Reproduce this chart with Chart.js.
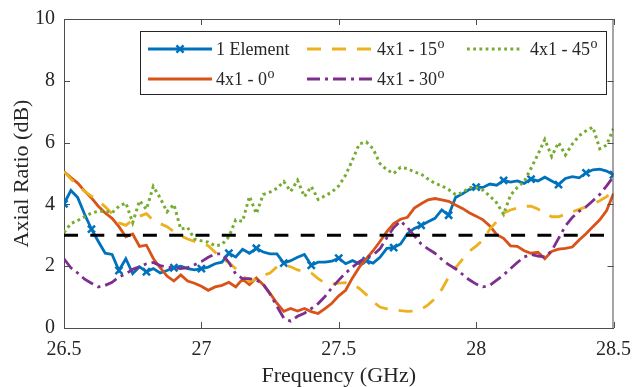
<!DOCTYPE html>
<html>
<head>
<meta charset="utf-8">
<script src="https://cdn.jsdelivr.net/npm/chart.js@4/dist/chart.umd.min.js"></script>
<style>
  html, body { margin: 0; padding: 0; background: #ffffff; }
  #wrap { width: 643px; height: 387px; position: relative; }
</style>
</head>
<body>
<div id="wrap"><canvas id="c" width="643" height="387"></canvas></div>
<script>
// Frequency sample points (GHz)
const freqs = [
  26.5, 26.525, 26.55, 26.575, 26.6, 26.625, 26.65, 26.675, 26.7, 26.725,
  26.75, 26.775, 26.8, 26.825, 26.85, 26.875, 26.9, 26.925, 26.95, 26.975,
  27.0, 27.025, 27.05, 27.075, 27.1, 27.125, 27.15, 27.175, 27.2, 27.225,
  27.25, 27.275, 27.3, 27.325, 27.35, 27.375, 27.4, 27.425, 27.45, 27.475,
  27.5, 27.525, 27.55, 27.575, 27.6, 27.625, 27.65, 27.675, 27.7, 27.725,
  27.75, 27.775, 27.8, 27.825, 27.85, 27.875, 27.9, 27.925, 27.95, 27.975,
  28.0, 28.025, 28.05, 28.075, 28.1, 28.125, 28.15, 28.175, 28.2, 28.225,
  28.25, 28.275, 28.3, 28.325, 28.35, 28.375, 28.4, 28.425, 28.45, 28.475,
  28.5
];

// Axial ratio (dB) per configuration
const oneElement = [
  4.02, 4.45, 4.22, 3.68, 3.20, 2.80, 2.42, 2.38, 1.86, 2.24,
  1.76, 1.98, 1.82, 1.92, 1.78, 1.86, 1.95, 2.00, 1.92, 1.88,
  1.92, 1.97, 2.08, 2.13, 2.42, 2.30, 2.55, 2.42, 2.58, 2.46,
  2.40, 2.40, 2.10, 2.18, 2.29, 2.38, 2.03, 2.13, 2.13, 2.16,
  2.26, 2.08, 2.18, 2.08, 2.18, 2.10, 2.29, 2.58, 2.60, 2.72,
  3.05, 3.22, 3.32, 3.44, 3.55, 3.82, 3.65, 4.22, 4.34, 4.48,
  4.56, 4.55, 4.66, 4.62, 4.78, 4.72, 4.76, 4.68, 4.82, 4.76,
  4.88, 4.76, 4.64, 4.84, 4.90, 4.86, 5.02, 5.12, 5.14, 5.08,
  4.96
];
const array0 = [
  5.06, 4.87, 4.69, 4.43, 4.21, 3.94, 3.72, 3.55, 3.28, 2.95,
  3.04, 2.64, 2.68, 2.25, 1.95, 1.68, 1.52, 1.72, 1.52, 1.45,
  1.35, 1.22, 1.33, 1.38, 1.48, 1.33, 1.58, 1.40, 1.62, 1.40,
  1.12, 0.80, 0.54, 0.63, 0.55, 0.63, 0.53, 0.47, 0.63, 0.80,
  1.04, 1.22, 1.62, 1.97, 2.24, 2.50, 2.80, 3.12, 3.38, 3.52,
  3.58, 3.88, 4.02, 4.15, 4.19, 4.15, 4.10, 3.98, 3.87, 3.73,
  3.62, 3.50, 3.30, 3.02, 2.90, 2.66, 2.64, 2.50, 2.42, 2.45,
  2.24, 2.48, 2.55, 2.58, 2.62, 2.85, 3.05, 3.28, 3.50, 3.80,
  4.35
];
const array15 = [
  5.07, 4.82, 4.62, 4.42, 4.27, 4.12, 3.92, 3.70, 3.40, 3.32,
  3.50, 3.62, 3.70, 3.48, 3.38, 3.28, 3.12, 2.98, 2.88, 2.80,
  2.74, 2.66, 2.45, 2.25, 2.12, 1.92, 1.68, 1.50, 1.58, 1.70,
  1.78, 1.98, 2.05, 1.98, 1.88, 1.83, 1.78, 1.60, 1.45, 1.42,
  1.45, 1.47, 1.42, 1.28, 1.08, 0.85, 0.68, 0.62, 0.60, 0.56,
  0.54, 0.55, 0.60, 0.75, 0.95, 1.25, 1.65, 1.95, 2.22, 2.48,
  2.65, 2.85, 3.20, 3.45, 3.72, 3.82, 3.88, 3.94, 3.94, 3.85,
  3.72, 3.60, 3.60, 3.68, 3.76, 3.84, 3.92, 4.02, 4.12, 4.25,
  4.42
];
const array30 = [
  2.24, 1.95, 1.78, 1.58, 1.45, 1.33, 1.38, 1.48, 1.65, 1.75,
  1.90, 1.98, 2.08, 2.12, 2.02, 1.97, 1.95, 1.92, 1.95, 2.05,
  2.15, 2.29, 2.40, 2.40, 2.12, 1.75, 1.60, 1.60, 1.55, 1.42,
  1.10, 0.70, 0.32, 0.22, 0.38, 0.48, 0.63, 0.79, 1.02, 1.30,
  1.55, 1.78, 1.97, 2.15, 2.28, 2.36, 2.56, 2.92, 3.25, 3.46,
  3.25, 2.98, 2.72, 2.56, 2.42, 2.22, 2.05, 1.92, 1.74, 1.56,
  1.42, 1.33, 1.38, 1.55, 1.72, 1.92, 2.12, 2.30, 2.38, 2.33,
  2.30, 2.50, 2.90, 3.30, 3.58, 3.78, 3.92, 4.12, 4.32, 4.60,
  4.90
];
const array45 = [
  3.09, 3.38, 3.48, 3.60, 3.72, 3.78, 3.78, 3.73, 3.94, 4.05,
  3.41, 4.12, 3.84, 4.58, 4.21, 3.76, 4.00, 3.20, 3.25, 2.88,
  2.82, 2.78, 2.66, 2.70, 2.95, 3.50, 3.45, 4.26, 3.70, 4.32,
  4.40, 4.52, 4.74, 4.42, 4.78, 4.25, 4.58, 4.16, 4.28, 4.40,
  4.60, 4.95, 5.44, 5.96, 6.02, 5.80, 5.32, 5.12, 5.00, 5.20,
  5.16, 5.05, 4.98, 4.82, 4.68, 4.60, 4.48, 4.32, 4.38, 4.55,
  4.55, 4.46, 4.27, 4.05, 3.68, 4.30, 4.55, 4.74, 5.17, 5.62,
  6.10, 5.55, 6.00, 5.60, 5.95, 6.22, 6.38, 6.50, 5.80, 5.92,
  6.45
];

// 3 dB axial-ratio limit
const limitFreqs = [26.5, 28.5];
const limitValues = [3, 3];

// Axis ticks
const xTicks = [26.5, 27, 27.5, 28, 28.5];
const yTicks = [0, 2, 4, 6, 8, 10];

// Series names
const seriesLabels = ['1 Element', '4x1 - 0°', '4x1 - 15°', '4x1 - 30°', '4x1 - 45°'];

const FONT = '"Liberation Serif", "Times New Roman", serif';
const TEXT = '#262626';
const AXIS = '#4d4d4d';
const MARK_EVERY = 4;

const pts = (xs, ys) => ys.map((y, i) => ({ x: xs[i], y }));

const datasets = [
  {
    label: seriesLabels[0], data: pts(freqs, oneElement),
    borderColor: '#0072BD', borderWidth: 2.8,
    pointStyle: 'crossRot',
    pointRadius: c => (c.dataIndex % MARK_EVERY === 0 ? 5 : 0),
    pointBorderWidth: 2.5, pointBorderColor: '#0072BD', pointBackgroundColor: '#0072BD',
    order: 5, marker: true
  },
  {
    label: seriesLabels[1], data: pts(freqs, array0),
    borderColor: '#D95319', borderWidth: 2.8, pointRadius: 0, order: 4
  },
  {
    label: seriesLabels[2], data: pts(freqs, array15),
    borderColor: '#EDB120', borderWidth: 2.8, borderDash: [14, 11], pointRadius: 0, order: 3
  },
  {
    label: seriesLabels[3], data: pts(freqs, array30),
    borderColor: '#7E2F8E', borderWidth: 2.8, borderDash: [13, 5, 3, 5], pointRadius: 0, order: 2
  },
  {
    label: seriesLabels[4], data: pts(freqs, array45),
    borderColor: '#77AC30', borderWidth: 3, borderDash: [2.8, 3.4], pointRadius: 0, order: 1
  },
  {
    label: '', data: pts(limitFreqs, limitValues),
    borderColor: '#000000', borderWidth: 3, borderDash: [14, 12.3], pointRadius: 0, order: 0
  }
];

// Inward tick marks and the closed axes box
const axesBox = {
  id: 'axesBox',
  afterDatasetsDraw(chart) {
    const { ctx, chartArea: a, scales: { x, y } } = chart;
    ctx.save();
    ctx.strokeStyle = AXIS;
    ctx.lineWidth = 1;
    ctx.beginPath();
    ctx.moveTo(a.left, a.top + 0.5); ctx.lineTo(a.right, a.top + 0.5);
    ctx.moveTo(a.right - 0.5, a.top); ctx.lineTo(a.right - 0.5, a.bottom);
    const tl = 6;
    xTicks.forEach(v => {
      const px = Math.round(x.getPixelForValue(v)) + 0.5;
      ctx.moveTo(px, a.bottom); ctx.lineTo(px, a.bottom - tl);
      ctx.moveTo(px, a.top); ctx.lineTo(px, a.top + tl);
    });
    yTicks.forEach(v => {
      const py = Math.round(y.getPixelForValue(v)) + 0.5;
      ctx.moveTo(a.left, py); ctx.lineTo(a.left + tl, py);
      ctx.moveTo(a.right, py); ctx.lineTo(a.right - tl, py);
    });
    ctx.stroke();
    ctx.restore();
  }
};

// Boxed legend, three columns
const boxLegend = {
  id: 'boxLegend',
  afterDraw(chart) {
    const { ctx } = chart;
    const ds = chart.data.datasets;
    ctx.save();
    ctx.fillStyle = '#ffffff';
    ctx.fillRect(140, 31, 467, 64);
    ctx.strokeStyle = '#262626';
    ctx.lineWidth = 1;
    ctx.strokeRect(140.5, 31.5, 466, 63);

    const slots = [
      { i: 0, x0: 148, x1: 212, tx: 216, y: 49 },
      { i: 1, x0: 148, x1: 212, tx: 216, y: 79 },
      { i: 2, x0: 307, x1: 372, tx: 377, y: 49 },
      { i: 3, x0: 307, x1: 372, tx: 377, y: 79 },
      { i: 4, x0: 467, x1: 522, tx: 530, y: 49 }
    ];
    slots.forEach(s => {
      const d = ds[s.i];
      ctx.save();
      ctx.strokeStyle = d.borderColor;
      ctx.lineWidth = d.borderWidth;
      ctx.lineCap = 'butt';
      ctx.setLineDash(d.borderDash || []);
      ctx.beginPath();
      ctx.moveTo(s.x0, s.y); ctx.lineTo(s.x1, s.y);
      ctx.stroke();
      ctx.restore();
      if (d.marker) {
        const cx = (s.x0 + s.x1) / 2, r = 5;
        ctx.save();
        ctx.strokeStyle = d.borderColor;
        ctx.lineWidth = 2.5;
        ctx.beginPath();
        const k = r * Math.SQRT1_2;
        ctx.moveTo(cx - k, s.y - k); ctx.lineTo(cx + k, s.y + k);
        ctx.moveTo(cx + k, s.y - k); ctx.lineTo(cx - k, s.y + k);
        ctx.stroke();
        ctx.restore();
      }
      // label, with the degree mark set as a raised "o"
      let text = d.label, sup = '';
      if (text.endsWith('°')) { text = text.slice(0, -1); sup = 'o'; }
      ctx.fillStyle = TEXT;
      ctx.textBaseline = 'alphabetic';
      ctx.textAlign = 'left';
      ctx.font = '18px ' + FONT;
      const base = s.y + 6;
      ctx.fillText(text, s.tx, base);
      if (sup) {
        const w = ctx.measureText(text).width;
        ctx.font = '14px ' + FONT;
        ctx.fillText(sup, s.tx + w + 0.5, base - 7);
      }
    });
    ctx.restore();
  }
};

new Chart(document.getElementById('c'), {
  type: 'line',
  data: { datasets },
  options: {
    responsive: false,
    animation: false,
    devicePixelRatio: 1,
    layout: { padding: { top: 16, right: 19, left: 0, bottom: 0 } },
    plugins: { legend: { display: false }, tooltip: { enabled: false } },
    elements: {
      line: { tension: 0, borderCapStyle: 'butt', borderJoinStyle: 'miter', fill: false },
      point: { hoverRadius: 0 }
    },
    scales: {
      x: {
        type: 'linear', min: 26.5, max: 28.5,
        afterBuildTicks: s => { s.ticks = xTicks.map(v => ({ value: v })); },
        afterFit: s => { s.height = 59; },
        grid: { display: false, drawTicks: false },
        border: { display: true, color: AXIS, width: 1 },
        ticks: {
          color: TEXT, padding: 12, maxRotation: 0, autoSkip: false,
          font: { family: FONT, size: 20, lineHeight: 1 },
          callback: v => String(v)
        },
        title: {
          display: true, text: 'Frequency (GHz)', color: TEXT,
          font: { family: FONT, size: 22, lineHeight: 1 },
          padding: { top: 0, bottom: 0 }
        }
      },
      y: {
        type: 'linear', min: 0, max: 10,
        afterBuildTicks: s => { s.ticks = yTicks.map(v => ({ value: v })); },
        afterFit: s => { s.width = 64; },
        grid: { display: false, drawTicks: false },
        border: { display: true, color: AXIS, width: 1 },
        ticks: {
          color: TEXT, padding: 9, autoSkip: false,
          font: { family: FONT, size: 20, lineHeight: 1 },
          callback: v => String(v)
        },
        title: {
          display: true, text: 'Axial Ratio (dB)', color: TEXT,
          font: { family: FONT, size: 22, lineHeight: 1 },
          padding: { top: 11, bottom: 0 }
        }
      }
    }
  },
  plugins: [axesBox, boxLegend]
});
</script>
</body>
</html>
